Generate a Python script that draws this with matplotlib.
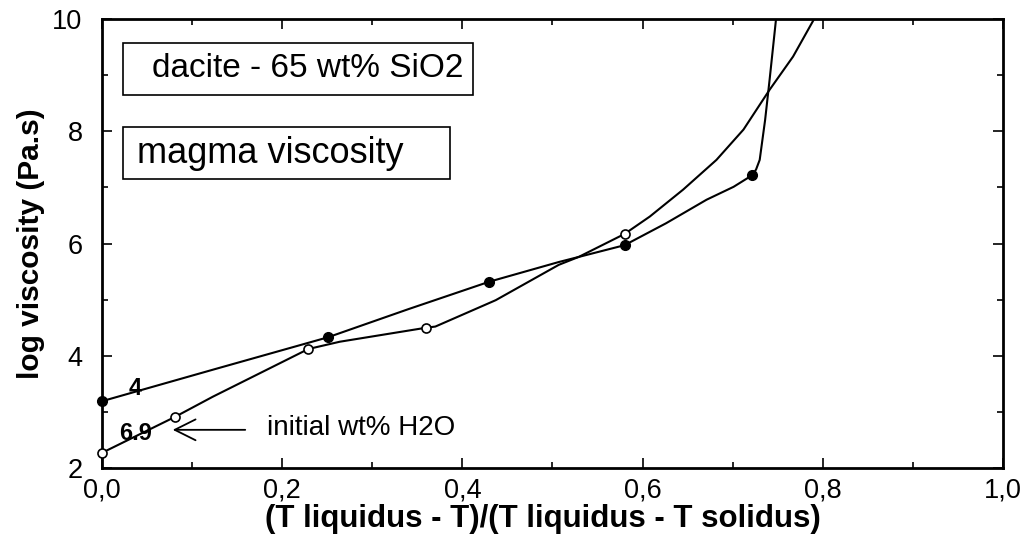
import matplotlib
matplotlib.use('Agg')
import matplotlib.pyplot as plt
from matplotlib.patches import Rectangle
from matplotlib.ticker import MultipleLocator, FuncFormatter

plt.rcParams['font.family'] = ['Liberation Sans', 'DejaVu Sans']

# curve for 4 wt% H2O (filled markers)
x_4 = [0.0, 0.125, 0.251, 0.34, 0.43, 0.507, 0.529, 0.58, 0.626, 0.671, 0.701, 0.722,
       0.726, 0.73, 0.736, 0.741, 0.748, 0.752]
y_4 = [3.19, 3.76, 4.33, 4.83, 5.32, 5.67, 5.76, 5.97, 6.36, 6.78, 7.01, 7.22,
       7.32, 7.49, 8.2, 8.92, 9.98, 10.5]
pts_x_4 = [0.0, 0.251, 0.43, 0.58, 0.722]
pts_y_4 = [3.19, 4.33, 5.32, 5.97, 7.22]

# curve for 6.9 wt% H2O (open markers)
x_69 = [0.0, 0.081, 0.123, 0.229, 0.264, 0.36, 0.37, 0.437, 0.507, 0.529, 0.58,
        0.608, 0.645, 0.682, 0.712, 0.741, 0.767, 0.789, 0.795]
y_69 = [2.27, 2.91, 3.27, 4.12, 4.25, 4.5, 4.52, 4.99, 5.62, 5.76, 6.17,
        6.48, 6.96, 7.49, 8.03, 8.74, 9.33, 9.96, 10.15]
pts_x_69 = [0.0, 0.081, 0.229, 0.36, 0.58]
pts_y_69 = [2.27, 2.91, 4.12, 4.5, 6.17]

fig = plt.figure(figsize=(10.29, 5.45), dpi=100)
ax = fig.add_axes([0.0991, 0.1413, 0.8756, 0.8238])

ax.plot(x_4, y_4, color='black', lw=1.5)
ax.plot(x_69, y_69, color='black', lw=1.5)
ax.plot(pts_x_4, pts_y_4, 'o', color='black', ms=7, clip_on=False, zorder=5)
ax.plot(pts_x_69, pts_y_69, 'o', mfc='white', mec='black', mew=1.2, ms=6.5,
        clip_on=False, zorder=5)

ax.set_xlim(0, 1.0)
ax.set_ylim(2, 10)
ax.xaxis.set_major_locator(MultipleLocator(0.2))
ax.xaxis.set_minor_locator(MultipleLocator(0.1))
ax.yaxis.set_major_locator(MultipleLocator(2))
ax.yaxis.set_minor_locator(MultipleLocator(1))
ax.xaxis.set_major_formatter(FuncFormatter(lambda v, p: f'{v:.1f}'.replace('.', ',')))
ax.yaxis.set_major_formatter(FuncFormatter(lambda v, p: f'{v:.0f}'))
ax.tick_params(which='both', direction='in', top=True, right=True, width=1.2,
               labelsize=19.5)
ax.tick_params(which='major', length=7.5)
ax.tick_params(which='minor', length=4)
ax.tick_params(axis='x', pad=7)
ax.tick_params(axis='y', pad=14)
for s in ax.spines.values():
    s.set_linewidth(2)

ax.set_xlabel('(T liquidus - T)/(T liquidus - T solidus)', fontsize=22.5,
              fontweight='bold', va='center')
ax.xaxis.set_label_coords(0.489, -0.113)
ax.set_ylabel('log viscosity (Pa.s)', fontsize=21.5, fontweight='bold', labelpad=5)

# title boxes
ax.add_patch(Rectangle((0.0233, 8.65), 0.389, 0.925, fill=False, ec='black', lw=1.2))
ax.text(0.0555, 9.11, 'dacite - 65 wt% SiO2', fontsize=24, va='center', ha='left')
ax.add_patch(Rectangle((0.0233, 7.15), 0.363, 0.93, fill=False, ec='black', lw=1.2))
ax.text(0.039, 7.6, 'magma viscosity', fontsize=26, va='center', ha='left')

ax.text(0.037, 3.42, '4', fontsize=17, fontweight='bold', ha='center', va='center')
ax.text(0.037, 2.62, '6.9', fontsize=17, fontweight='bold', ha='center', va='center')
ax.annotate('', xy=(0.0785, 2.68), xytext=(0.159, 2.68),
            arrowprops=dict(arrowstyle='->,head_length=1.0,head_width=0.5', lw=1.3,
                            color='black', mutation_scale=15, shrinkA=0, shrinkB=0))
ax.text(0.183, 2.71, 'initial wt% H2O', fontsize=20, ha='left', va='center')

fig.savefig('out.png', dpi=100)
